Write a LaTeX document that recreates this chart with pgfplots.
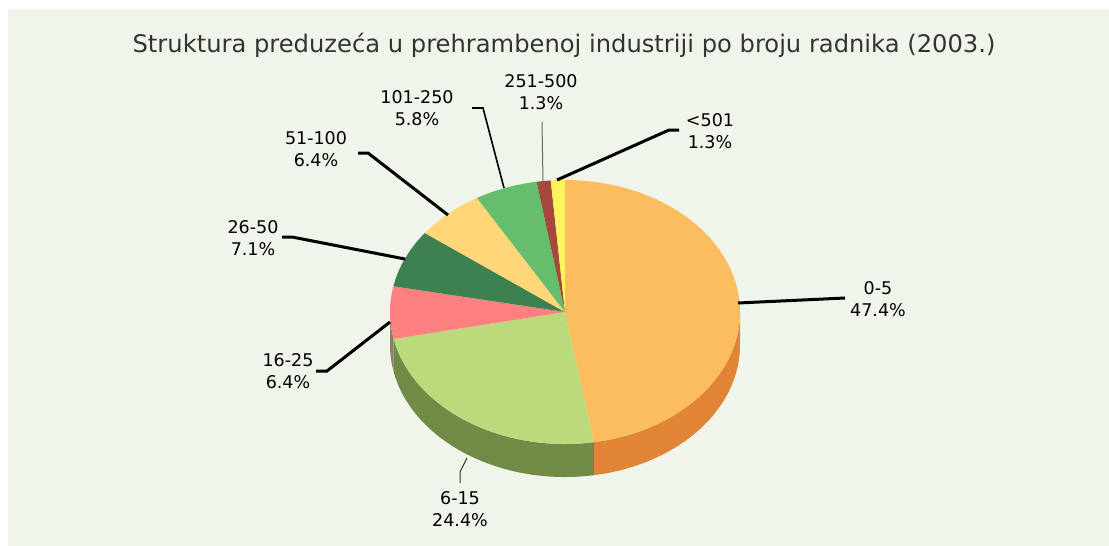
\documentclass[border=0pt]{standalone}
\usepackage{pgfplots}
\pgfplotsset{compat=1.18}
\usepackage{pgfplotstable}
\usepackage{fontspec}
\setmainfont{DejaVu Sans}
\definecolor{bg}{HTML}{F0F5EC}
\definecolor{cA}{HTML}{FBBD5E}\definecolor{sA}{HTML}{E08535}
\definecolor{cB}{HTML}{BBDA7C}\definecolor{sB}{HTML}{718A45}
\definecolor{cC}{HTML}{FF8080}\definecolor{sC}{HTML}{8A8466}
\definecolor{cD}{HTML}{3E8150}
\definecolor{cE}{HTML}{FFD778}
\definecolor{cF}{HTML}{64BE6E}
\definecolor{cG}{HTML}{A5493A}
\definecolor{cH}{HTML}{FFF35E}
\pgfplotstableread{
label value
0-5 47.4
6-15 24.4
16-25 6.4
26-50 7.1
51-100 6.4
101-250 5.8
251-500 1.3
<501 1.3
}\piedata
\def\A#1{\csname ang#1\endcsname}
\newcommand\slice[3]{% color, start, end
  \fill[#1] (axis cs:565,312) -- ++(#2:175pt and 132pt) arc[start angle=#2, end angle=#3, x radius=175pt, y radius=132pt] -- cycle;}
\newcommand\wall[3]{% color, start, end
  \fill[#1] (axis cs:565,312) ++(#2:175pt and 132pt) arc[start angle=#2, end angle=#3, x radius=175pt, y radius=132pt] -- ++(0,-33pt) arc[start angle=#3, end angle=#2, x radius=175pt, y radius=132pt] -- cycle;}
\begin{document}
\begin{tikzpicture}
% cumulative angles (clockwise from the top)
\def\total{0}%
\pgfplotsforeachungrouped \i in {0,...,7}{%
  \pgfplotstablegetelem{\i}{value}\of\piedata%
  \pgfmathsetmacro\total{\total+\pgfplotsretval}}%
\def\cum{0}%
\expandafter\gdef\csname ang0\endcsname{90}%
\pgfplotsforeachungrouped \i in {0,...,7}{%
  \pgfplotstablegetelem{\i}{value}\of\piedata%
  \pgfmathsetmacro\cum{\cum+\pgfplotsretval}%
  \pgfmathtruncatemacro\j{\i+1}%
  \pgfmathsetmacro\tmp{90-360*(\cum/\total)}%
  \expandafter\xdef\csname ang\j\endcsname{\tmp}}%
\begin{axis}[hide axis, scale only axis, width=1109pt, height=546pt,
  xmin=0, xmax=1109, ymin=0, ymax=546, y dir=reverse, clip=false]
\fill[white] (axis cs:0,0) rectangle (axis cs:1109,546);
\fill[bg] (axis cs:8,9) rectangle (axis cs:1115,552);
% side walls
\wall{sA}{0}{\A1}
\wall{sB}{\A1}{\A2}
\wall{sC}{\A2}{-180}
% top faces
\slice{cA}{\A0}{\A1}
\slice{cB}{\A1}{\A2}
\slice{cC}{\A2}{\A3}
\slice{cD}{\A3}{\A4}
\slice{cE}{\A4}{\A5}
\slice{cF}{\A5}{\A6}
\slice{cG}{\A6}{\A7}
\slice{cH}{\A7}{\A8}
% leader lines
\draw[black, line width=3pt] (axis cs:738,303) -- (axis cs:845,298);
\draw[black!80, line width=1pt] (axis cs:467,458) -- (axis cs:460,472) -- (axis cs:460,483);
\draw[black, line width=3pt] (axis cs:390,322) -- (axis cs:327,371) -- (axis cs:316,371);
\draw[black, line width=3pt] (axis cs:405,259) -- (axis cs:292,237) -- (axis cs:282,237);
\draw[black, line width=3pt] (axis cs:448,215) -- (axis cs:368,153) -- (axis cs:358,153);
\draw[black, line width=1.6pt] (axis cs:504,188) -- (axis cs:483,108) -- (axis cs:472,108);
\draw[black!60, line width=1pt] (axis cs:543,182) -- (axis cs:542,122);
\draw[black, line width=3pt] (axis cs:557,180) -- (axis cs:669,130) -- (axis cs:679,130);
% labels
\tikzset{lab/.style={align=center, font=\fontsize{17.5}{22}\selectfont, text=black, inner sep=0pt}}
\node[lab] at (axis cs:878,299) {0-5\\47.4\%};
\node[lab] at (axis cs:460,509) {6-15\\24.4\%};
\node[lab] at (axis cs:288,371) {16-25\\6.4\%};
\node[lab] at (axis cs:253,238) {26-50\\7.1\%};
\node[lab] at (axis cs:316,149) {51-100\\6.4\%};
\node[lab] at (axis cs:417,108) {101-250\\5.8\%};
\node[lab] at (axis cs:541,92) {251-500\\1.3\%};
\node[lab] at (axis cs:710,131) {<501\\1.3\%};
\node[font=\fontsize{24.2}{28}\selectfont, text=black!80, inner sep=0pt] at (axis cs:564,45) {Struktura preduzeća u prehrambenoj industriji po broju radnika (2003.)};
\end{axis}
\pgfresetboundingbox
\path (current axis.south west) rectangle (current axis.north east);
\end{tikzpicture}
\end{document}
